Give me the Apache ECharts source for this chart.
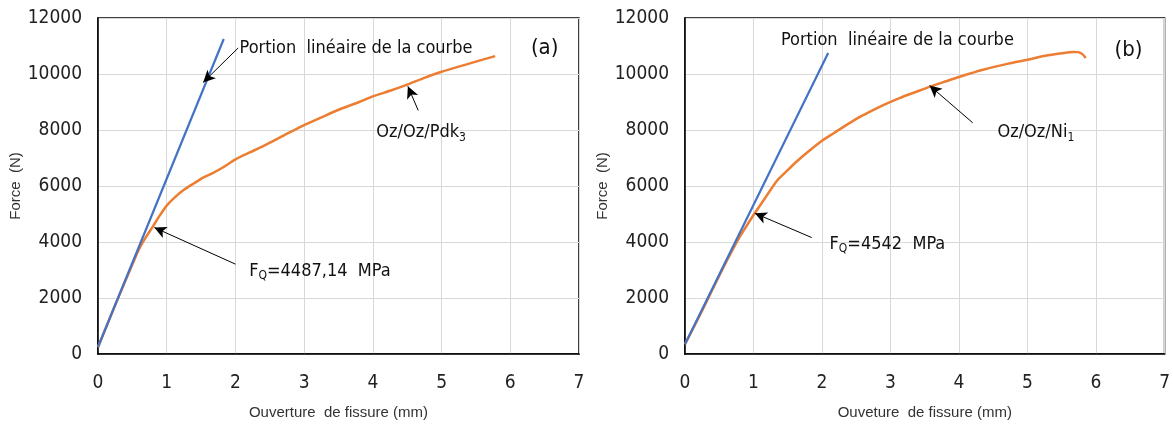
<!DOCTYPE html>
<html><head><meta charset="utf-8">
<script src="https://cdn.jsdelivr.net/npm/echarts@6/dist/echarts.min.js"></script>
<style>html,body{margin:0;padding:0;background:#fff}#c{width:1173px;height:425px}</style>
</head><body><div id="c"></div>
<script>
// Chart (a)
const linA = [[0, 250], [1.83, 11250]];
const curveA = [[0, 240], [0.25, 1750], [0.5, 3200], [0.6, 3760], [0.7, 4180], [0.8, 4560], [0.9, 4950], [1.0, 5300], [1.13, 5620], [1.26, 5880], [1.4, 6100], [1.53, 6300], [1.67, 6460], [1.81, 6650], [2.0, 6950], [2.2, 7190], [2.41, 7430], [2.7, 7800], [2.97, 8140], [3.25, 8450], [3.52, 8740], [3.8, 9000], [4.01, 9210], [4.25, 9400], [4.51, 9630], [4.75, 9860], [5.0, 10080], [5.4, 10370], [5.78, 10640]];
// Chart (b)
const linB = [[0, 350], [2.09, 10750]];
const curveB = [[0, 350], [0.25, 1550], [0.46, 2600], [0.62, 3380], [0.79, 4150], [0.9, 4580], [1.01, 5000], [1.15, 5500], [1.34, 6180], [1.48, 6520], [1.61, 6830], [1.8, 7230], [1.99, 7600], [2.18, 7900], [2.37, 8200], [2.56, 8480], [2.76, 8730], [2.95, 8950], [3.14, 9150], [3.35, 9340], [3.57, 9540], [3.8, 9730], [4.01, 9900], [4.35, 10150], [4.72, 10370], [5.0, 10510], [5.26, 10650], [5.5, 10740], [5.67, 10790], [5.74, 10780], [5.8, 10710], [5.85, 10570]];
const xTicks = [0, 1, 2, 3, 4, 5, 6, 7];
const yTicks = [0, 2000, 4000, 6000, 8000, 10000, 12000];
const labelsA = {lin: 'Portion  linéaire de la courbe', tag: '(a)', spec: 'Oz/Oz/Pdk', specSub: '3', fq: '=4487,14  MPa'};
const labelsB = {lin: 'Portion  linéaire de la courbe', tag: '(b)', spec: 'Oz/Oz/Ni', specSub: '1', fq: '=4542  MPa'};

const FONT = "'Liberation Sans Narrow','DejaVu Sans Condensed','Liberation Sans',sans-serif";
const AXFONT = "'Liberation Sans',Arial,sans-serif";

function mkX(gi) {
  return {gridIndex: gi, type: 'value', min: xTicks[0], max: xTicks[xTicks.length - 1], interval: 1,
    name: gi === 0 ? 'Ouverture  de fissure (mm)' : 'Ouveture  de fissure (mm)', nameLocation: 'middle', nameGap: 51,
    nameTextStyle: {fontFamily: AXFONT, fontSize: 15, color: '#333'},
    axisLine: {lineStyle: {color: '#000', width: 1.5}}, axisTick: {show: false},
    axisLabel: {fontFamily: FONT, fontSize: 19, color: '#222', margin: 20, formatter: v => String(v)},
    splitLine: {show: true, lineStyle: {color: '#d9d9d9', width: 1}}};
}
function mkY(gi) {
  return {gridIndex: gi, type: 'value', min: yTicks[0], max: yTicks[yTicks.length - 1], interval: 2000,
    name: 'Force  (N)', nameLocation: 'middle', nameGap: 62,
    nameTextStyle: {fontFamily: AXFONT, fontSize: 15, color: '#333'},
    axisLine: {show: true, lineStyle: {color: '#000', width: 1.5}}, axisTick: {show: false},
    axisLabel: {fontFamily: FONT, fontSize: 19, color: '#222', margin: 16, formatter: v => String(v)},
    splitLine: {show: true, lineStyle: {color: '#d9d9d9', width: 1}}};
}
const arrowStyle = {color: '#000', width: 1, type: 'solid'};
function arrow(a, b) {
  return [{coord: a, symbol: 'none'}, {coord: b, symbol: 'arrow', symbolSize: [9, 12]}];
}
function txt(coord, text, size, rich) {
  return {coord: coord, symbol: 'circle', symbolSize: 0, label: {show: true, position: 'right', distance: 0, formatter: text,
    fontFamily: FONT, fontSize: size, color: '#111', rich: rich}};
}
const richSub = {n: {fontFamily: FONT, fontSize: 18, color: '#111'}, s: {fontFamily: FONT, fontSize: 12, color: '#111', padding: [10, 0, 0, 0]}};

const opt = {
  animation: false,
  grid: [
    {left: 98, width: 481, top: 18, height: 337, show: true, borderColor: '#000', borderWidth: 1.5},
    {left: 685, width: 485, top: 18, height: 337, show: true, borderColor: '#000', borderWidth: 1.5}
  ],
  xAxis: [mkX(0), mkX(1)],
  yAxis: [mkY(0), mkY(1)],
  series: [
    {type: 'line', xAxisIndex: 0, yAxisIndex: 0, data: curveA, showSymbol: false, smooth: 0.25,
      lineStyle: {color: '#ED7D31', width: 2.5}, z: 2},
    {type: 'line', xAxisIndex: 0, yAxisIndex: 0, data: linA, showSymbol: false,
      lineStyle: {color: '#4472C4', width: 2.2}, z: 3,
      markLine: {silent: true, lineStyle: arrowStyle, label: {show: false},
        data: [arrow([2.04, 10930], [1.53, 9700]), arrow([4.66, 8700], [4.51, 9560]), arrow([2.0, 3210], [0.82, 4515])]},
      markPoint: {silent: true, data: [
        txt([2.06, 10930], labelsA.lin, 18),
        txt([6.3, 10932], labelsA.tag, 22),
        txt([4.05, 7906], '{n|' + labelsA.spec + '}{s|' + labelsA.specSub + '}', 18, richSub),
        txt([2.2, 2956], '{n|F}{s|Q}{n|' + labelsA.fq + '}', 18, richSub)
      ]}},
    {type: 'line', xAxisIndex: 1, yAxisIndex: 1, data: curveB, showSymbol: false, smooth: 0.25,
      lineStyle: {color: '#ED7D31', width: 2.5}, z: 2},
    {type: 'line', xAxisIndex: 1, yAxisIndex: 1, data: linB, showSymbol: false,
      lineStyle: {color: '#4472C4', width: 2.2}, z: 3,
      markLine: {silent: true, lineStyle: arrowStyle, label: {show: false},
        data: [arrow([4.2, 8257], [3.57, 9588]), arrow([1.85, 4158], [1.02, 5025])]},
      markPoint: {silent: true, data: [
        txt([1.4, 11217], labelsB.lin, 18),
        txt([6.27, 10860], labelsB.tag, 22),
        txt([4.56, 7906], '{n|' + labelsB.spec + '}{s|' + labelsB.specSub + '}', 18, richSub),
        txt([2.11, 3917], '{n|F}{s|Q}{n|' + labelsB.fq + '}', 18, richSub)
      ]}}
  ]
};
const chart = echarts.init(document.getElementById('c'), null, {renderer: 'canvas'});
chart.setOption(opt);
</script></body></html>
